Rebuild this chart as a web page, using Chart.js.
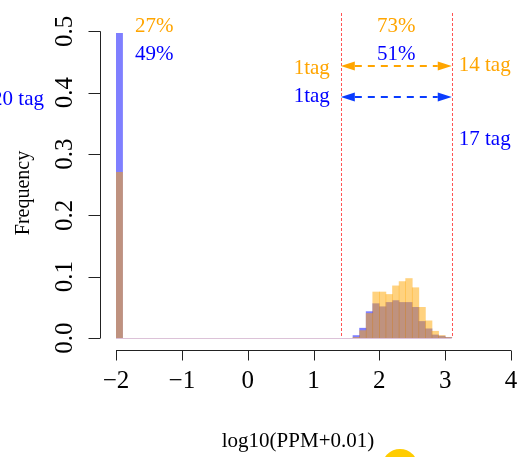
<!DOCTYPE html>
<html>
<head>
<meta charset="utf-8">
<script src="https://cdn.jsdelivr.net/npm/chart.js@4.4.0/dist/chart.umd.min.js"></script>
<style>
  html, body { margin: 0; padding: 0; background: #fff; }
</style>
</head>
<body>
<canvas id="histChart" width="526" height="457"></canvas>
<script>
// left edge of each 0.1-wide bin of log10(PPM+0.01) that has counts
const binStarts = [-2.0, 1.6, 1.7, 1.8, 1.9, 2.0, 2.1, 2.2, 2.3, 2.4, 2.5, 2.6, 2.7, 2.8, 2.9, 3.0];
const orangeFreq = [0.270, 0.001, 0.012, 0.040, 0.075, 0.075, 0.071, 0.085, 0.092, 0.097, 0.082, 0.050, 0.028, 0.011, 0.004, 0.001];
const blueFreq   = [0.497, 0.004, 0.016, 0.043, 0.056, 0.051, 0.058, 0.061, 0.058, 0.058, 0.050, 0.027, 0.015, 0.005, 0.003, 0.001];
const binWidth = 0.1;
const emptyRange = [-2.0, 3.1];   // extent of the (mostly empty) histogram bins

const xTicks = [-2, -1, 0, 1, 2, 3, 4];
const yTicks = [0, 0.1, 0.2, 0.3, 0.4, 0.5];
const cutoffs = [1.415, 3.1];

const orangeShares = ['27%', '73%'];
const blueShares = ['49%', '51%'];
const orangeTags = ['1tag', '14 tag'];
const blueTags = ['20 tag', '1tag', '17 tag'];

const ORANGE = '#ffa500';
const BLUE = '#0000ff';
const SERIF = '"Liberation Serif", "DejaVu Serif", serif';

function txt(ctx, s, x, y, size, color, align, rot) {
    ctx.save();
    ctx.font = size + 'px ' + SERIF;
    ctx.fillStyle = color;
    ctx.textAlign = align || 'left';
    ctx.textBaseline = 'alphabetic';
    ctx.translate(x, y);
    if (rot) ctx.rotate(rot);
    ctx.fillText(s, 0, 0);
    ctx.restore();
}

function arrow(ctx, x1, x2, y, color) {
    const head = 14, half = 4.5;
    ctx.save();
    ctx.strokeStyle = color;
    ctx.fillStyle = color;
    ctx.lineWidth = 2;
    ctx.setLineDash([7, 6]);
    ctx.beginPath();
    ctx.moveTo(x1 + head, y);
    ctx.lineTo(x2 - head, y);
    ctx.stroke();
    ctx.beginPath();
    ctx.moveTo(x1, y); ctx.lineTo(x1 + head, y - half); ctx.lineTo(x1 + head, y + half);
    ctx.closePath(); ctx.fill();
    ctx.beginPath();
    ctx.moveTo(x2, y); ctx.lineTo(x2 - head, y - half); ctx.lineTo(x2 - head, y + half);
    ctx.closePath(); ctx.fill();
    ctx.restore();
}

// R-style axes, cutoff lines and labels
const rPlot = {
    id: 'rPlot',
    beforeDatasetsDraw(chart) {
        const { ctx, scales: { x, y } } = chart;
        ctx.save();
        ctx.strokeStyle = '#dcc2d8';
        ctx.lineWidth = 1;
        ctx.beginPath();
        ctx.moveTo(x.getPixelForValue(emptyRange[0]), y.getPixelForValue(0) + 0.5);
        ctx.lineTo(x.getPixelForValue(emptyRange[1]), y.getPixelForValue(0) + 0.5);
        ctx.stroke();
        ctx.restore();
    },
    afterDatasetsDraw(chart) {
        const { ctx, chartArea, scales: { x, y } } = chart;

        // red dotted cutoffs
        ctx.save();
        ctx.strokeStyle = 'rgba(255, 40, 40, 0.8)';
        ctx.lineWidth = 1;
        ctx.setLineDash([3, 2]);
        cutoffs.forEach(c => {
            const px = Math.round(x.getPixelForValue(c)) + 0.5;
            ctx.beginPath();
            ctx.moveTo(px, chartArea.top);
            ctx.lineTo(px, chartArea.bottom);
            ctx.stroke();
        });
        ctx.restore();

        // y axis
        const yAxisX = 100.5;
        ctx.save();
        ctx.strokeStyle = '#222';
        ctx.lineWidth = 1;
        ctx.beginPath();
        ctx.moveTo(yAxisX, y.getPixelForValue(yTicks[0]));
        ctx.lineTo(yAxisX, y.getPixelForValue(yTicks[yTicks.length - 1]));
        yTicks.forEach(t => {
            const py = Math.round(y.getPixelForValue(t)) + 0.5;
            ctx.moveTo(yAxisX, py);
            ctx.lineTo(yAxisX - 12, py);
        });
        // x axis
        const xAxisY = 350.5;
        ctx.moveTo(x.getPixelForValue(xTicks[0]), xAxisY);
        ctx.lineTo(x.getPixelForValue(xTicks[xTicks.length - 1]), xAxisY);
        xTicks.forEach(t => {
            const px = Math.round(x.getPixelForValue(t)) + 0.5;
            ctx.moveTo(px, xAxisY);
            ctx.lineTo(px, xAxisY + 10);
        });
        ctx.stroke();
        ctx.restore();

        yTicks.forEach(t => {
            txt(ctx, t.toFixed(1), 72, y.getPixelForValue(t), 25, '#000', 'center', -Math.PI / 2);
        });
        xTicks.forEach(t => {
            const s = t < 0 ? '\u2212' + Math.abs(t) : String(t);
            txt(ctx, s, x.getPixelForValue(t), 388, 25, '#000', 'center');
        });

        txt(ctx, 'Frequency', 29, 193, 20, '#000', 'center', -Math.PI / 2);
        txt(ctx, 'log10(PPM+0.01)', 298, 447, 21, '#000', 'center');

        // shares and tag counts
        const leftX = x.getPixelForValue(binStarts[0]) + 19;
        const c0 = x.getPixelForValue(cutoffs[0]);
        const c1 = x.getPixelForValue(cutoffs[1]);
        const mid = (c0 + c1) / 2;
        txt(ctx, orangeShares[0], leftX, 32, 21, ORANGE, 'left');
        txt(ctx, blueShares[0], leftX, 60, 21, BLUE, 'left');
        txt(ctx, orangeShares[1], mid, 32, 21, ORANGE, 'center');
        txt(ctx, blueShares[1], mid, 60, 21, BLUE, 'center');

        arrow(ctx, c0, c1, 66, ORANGE);
        arrow(ctx, c0, c1, 97, '#0a3cff');

        txt(ctx, orangeTags[0], c0 - 11, 74, 21, ORANGE, 'right');
        txt(ctx, orangeTags[1], c1 + 7, 71, 21, ORANGE, 'left');
        txt(ctx, blueTags[0], x.getPixelForValue(binStarts[0]) - 72, 105, 21, BLUE, 'right');
        txt(ctx, blueTags[1], c0 - 11, 102, 21, BLUE, 'right');
        txt(ctx, blueTags[2], c1 + 7, 145, 21, BLUE, 'left');
    },
    afterDraw(chart) {
        const ctx = chart.ctx;
        ctx.save();
        ctx.fillStyle = '#ffcc00';
        ctx.beginPath();
        ctx.arc(400, 467, 18, 0, Math.PI * 2);
        ctx.fill();
        ctx.restore();
    }
};

const ctx = document.getElementById('histChart');
new Chart(ctx.getContext('2d'), {
    type: 'bar',
    data: {
        datasets: [{
            label: 'orange',
            data: binStarts.map((b, i) => ({ x: b + binWidth / 2, y: orangeFreq[i] })),
            backgroundColor: 'rgba(255, 165, 0, 0.5)',
            borderWidth: 0
        }, {
            label: 'blue',
            data: binStarts.map((b, i) => ({ x: b + binWidth / 2, y: blueFreq[i] })),
            backgroundColor: 'rgba(0, 0, 255, 0.5)',
            borderWidth: 0
        }]
    },
    options: {
        responsive: false,
        animation: false,
        grouped: false,
        barPercentage: 1,
        categoryPercentage: 1,
        layout: {
            padding: { left: 116, right: 15, top: 13, bottom: 119 }
        },
        plugins: {
            legend: { display: false },
            tooltip: { enabled: false }
        },
        scales: {
            x: { type: 'linear', min: -2, max: 4, offset: false, display: false },
            y: { min: 0, max: 0.53, display: false }
        }
    },
    plugins: [rPlot]
});
</script>
</body>
</html>
